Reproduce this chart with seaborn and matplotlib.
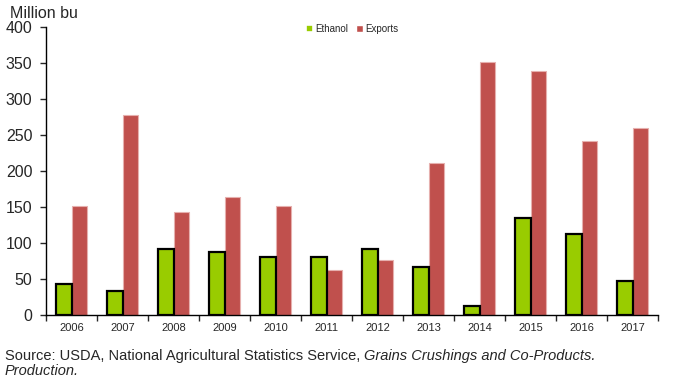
import numpy as np
import pandas as pd
import matplotlib
matplotlib.use("Agg")
import matplotlib.pyplot as plt
import seaborn as sns

years = ["2006", "2007", "2008", "2009", "2010", "2011",
         "2012", "2013", "2014", "2015", "2016", "2017"]
ethanol = [43, 33, 92, 87, 81, 81, 92, 67, 13, 135, 113, 47]
exports = [152, 277, 143, 164, 151, 63, 76, 211, 351, 339, 241, 260]

df = pd.DataFrame({
    "year": years * 2,
    "value": ethanol + exports,
    "series": ["Ethanol"] * len(years) + ["Exports"] * len(years),
})

sns.set_style("white")
plt.rcParams["font.family"] = ["Liberation Sans", "DejaVu Sans"]

fig = plt.figure(figsize=(6.8, 3.89), dpi=100)
ax = fig.add_axes([0.068, 0.19, 0.90, 0.741])

sns.barplot(data=df, x="year", y="value", hue="series", ax=ax,
            palette={"Ethanol": "#99CC00", "Exports": "#C0504D"},
            width=0.6, gap=0, saturation=1)

for bar in ax.containers[0]:
    bar.set_edgecolor("black")
    bar.set_linewidth(1.6)
    bar.set_zorder(3)
for bar in ax.containers[1]:
    bar.set_edgecolor("#E6B0AE")
    bar.set_linewidth(0.8)
    bar.set_zorder(2)

ax.set_ylim(0, 400)
ax.set_xlim(-0.5, len(years) - 0.5)
ax.set_yticks(range(0, 401, 50))
ax.tick_params(axis="y", labelsize=11.5, length=4, width=1, direction="out", left=True, pad=6)
ax.tick_params(axis="x", which="major", length=0, labelsize=8, pad=6)
ax.set_xticks(np.arange(-0.5, len(years)), minor=True)
ax.tick_params(axis="x", which="minor", length=4, width=1, direction="out", bottom=True)
ax.set_xlabel("")
ax.set_ylabel("")
for s in ["top", "right"]:
    ax.spines[s].set_visible(False)
for s in ["left", "bottom"]:
    ax.spines[s].set_color("black")
    ax.spines[s].set_linewidth(1)
    ax.spines[s].set_zorder(4)

leg = ax.legend(loc="upper center", bbox_to_anchor=(0.5, 1.04), ncol=2, frameon=False,
                fontsize=7, handlelength=0.7, handleheight=0.7, handletextpad=0.2,
                columnspacing=0.9)
leg.legend_handles[0].set_linewidth(1.2)

fig.text(0.015, 0.965, "Million bu", fontsize=11.5, va="center")
fig.text(0.007, 0.085, "Source: USDA, National Agricultural Statistics Service, ", fontsize=10.5, va="center")
fig.text(0.007, 0.045, "Production.", fontsize=10.5, va="center", style="italic")
fig.canvas.draw()
bb = fig.texts[1].get_window_extent()
fig.text(bb.x1 / fig.bbox.width, 0.085, "Grains Crushings and Co-Products.",
         fontsize=10.5, va="center", style="italic")

fig.savefig("out.png", dpi=100)
